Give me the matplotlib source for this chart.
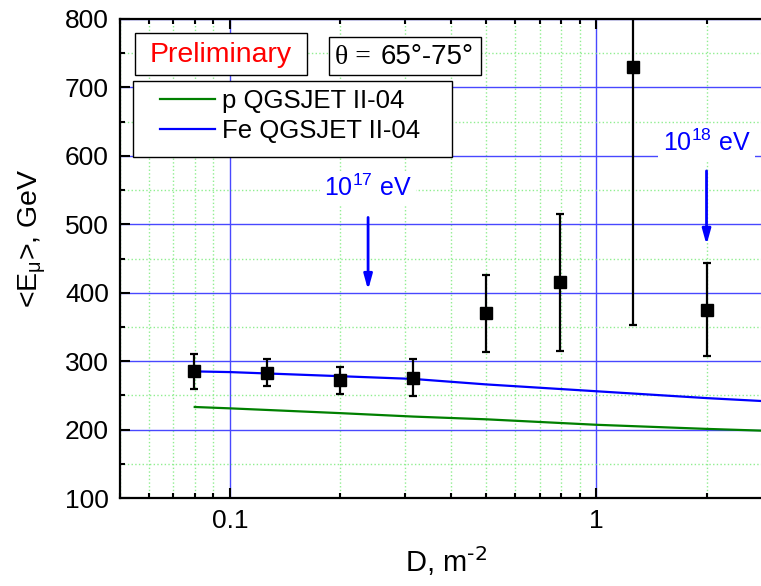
import numpy as np
import matplotlib
matplotlib.use('Agg')
import matplotlib.pyplot as plt
from matplotlib.ticker import MultipleLocator, LogLocator, NullFormatter
from matplotlib.patches import Rectangle

plt.rcParams['font.family'] = ['Liberation Sans', 'DejaVu Sans']
plt.rcParams['mathtext.default'] = 'regular'

# measured muon energy vs. particle density
D = [0.0794, 0.126, 0.2, 0.316, 0.5, 0.794, 1.26, 2.0]
E = [285, 283, 272, 276, 370, 415, 730, 375]
E_err = [25, 20, 20, 27, 56, 100, 377, 68]

# model curves
model_D = [0.08, 0.1, 0.2, 0.316, 0.5, 1.0, 2.0, 3.0]
p_qgs = [233, 231, 224, 219, 215, 207, 201, 198]
fe_qgs = [285, 284, 278, 274, 266, 256, 246, 241]

# primary energy marks
mark_D = [0.238, 2.0]
mark_lbl = ['10$^{17}$ eV', '10$^{18}$ eV']
mark_top = [510, 578]
mark_tip = [404, 470]
mark_txt = [553, 619]

W, H = 761, 586
fig = plt.figure(figsize=(W / 100, H / 100), dpi=100)
L, R, T, B = 120, 771, 19, 498
ax = fig.add_axes([L / W, (H - B) / H, (R - L) / W, (B - T) / H])

def axx(px):
    return (px - L) / (R - L)

def axy(py):
    return (B - py) / (B - T)

ax.set_xscale('log')
ax.set_xlim(0.05, 3)
ax.set_ylim(100, 800)

# grid: blue major, dotted green minor
ax.set_axisbelow(True)
ax.grid(which='major', color='#4848ff', lw=1.0, ls='-')
ax.grid(which='minor', color='#90ee90', lw=1.0, ls=':')

ax.set_xticks([0.1, 1])
ax.set_xticklabels(['0.1', '1'])
ax.xaxis.set_minor_locator(LogLocator(base=10, subs=np.arange(2, 10)))
ax.xaxis.set_minor_formatter(NullFormatter())
ax.yaxis.set_major_locator(MultipleLocator(100))
ax.yaxis.set_minor_locator(MultipleLocator(50))

ax.tick_params(which='both', direction='in', top=True, right=True,
               labelsize=19, width=1.5, color='black')
ax.tick_params(which='major', length=7, pad=8)
ax.tick_params(which='minor', length=3.5)
for s in ax.spines.values():
    s.set_linewidth(1.6)

ax.plot(model_D, p_qgs, color='#008000', lw=1.6, label='p QGSJET II-04', zorder=3)
ax.plot(model_D, fe_qgs, color='#0000ff', lw=1.6, label='Fe QGSJET II-04', zorder=3)
ax.errorbar(D, E, yerr=E_err, fmt='s', color='black', ms=8, elinewidth=1.6,
            capsize=3, capthick=1.6, zorder=4)

ax.set_xlabel('D, m$^{\\text{-2}}$', fontsize=21, labelpad=8)
ax.set_ylabel('<E$_{μ}$>, GeV', fontsize=20.5)
ax.yaxis.set_label_coords(axx(48), axy(238))

# legend with its own frame
ax.add_patch(Rectangle((axx(133), axy(157)), axx(452) - axx(133), axy(81) - axy(157),
                       transform=ax.transAxes, fc='white', ec='black', lw=1.0, zorder=6))
leg = ax.legend(loc='upper left', bbox_to_anchor=(axx(160), axy(89)),
                borderaxespad=0, borderpad=0, fontsize=18.5, frameon=False,
                handlelength=2.15, handletextpad=0.25, labelspacing=0.22)
leg.set_zorder(7)

# boxes in the upper left corner
ax.add_patch(Rectangle((axx(135), axy(75)), axx(307) - axx(135), axy(33) - axy(75),
                       transform=ax.transAxes, fc='white', ec='black', lw=1.0, zorder=6))
ax.text(axx(221), axy(55), 'Preliminary', color='red', fontsize=20.5,
        ha='center', va='center', transform=ax.transAxes, zorder=7)

ax.add_patch(Rectangle((axx(329), axy(75)), axx(481) - axx(329), axy(37) - axy(75),
                       transform=ax.transAxes, fc='white', ec='black', lw=1.0, zorder=6))
ax.text(axx(335), axy(57), 'θ =', family='Liberation Serif', fontsize=20,
        ha='left', va='center', transform=ax.transAxes, zorder=7)
ax.text(axx(381), axy(57), '65°-75°', fontsize=20,
        ha='left', va='center', transform=ax.transAxes, zorder=7)

for x, lbl, y0, y1, yt in zip(mark_D, mark_lbl, mark_top, mark_tip, mark_txt):
    ax.annotate('', xy=(x, y1), xytext=(x, y0),
                arrowprops=dict(arrowstyle='-|>,head_length=0.9,head_width=0.25',
                                color='#0000ff', lw=2, shrinkA=0, shrinkB=0),
                zorder=5)
    ax.text(x, yt, lbl, color='#0000ff', fontsize=18, ha='center', va='center',
            bbox=dict(fc='white', ec='none', pad=3), zorder=5)

fig.savefig('out.png', dpi=100)
